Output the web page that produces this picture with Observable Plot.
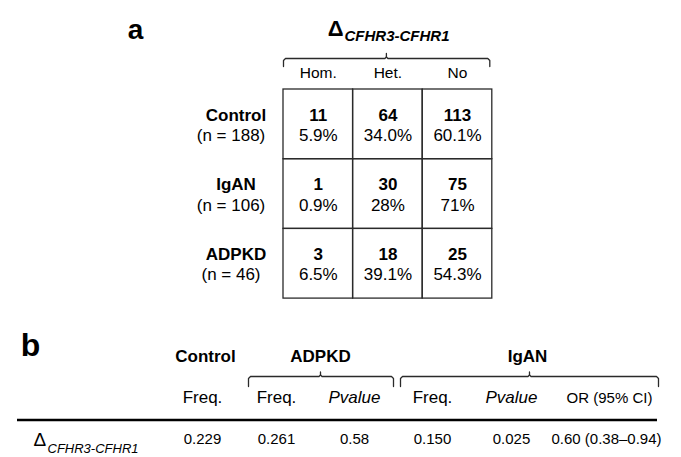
<!DOCTYPE html>
<html><head><meta charset="utf-8">
<script src="https://cdn.jsdelivr.net/npm/d3@7"></script>
<script src="https://cdn.jsdelivr.net/npm/@observablehq/plot@0.6"></script>
<style>body{margin:0;background:#fff}</style>
</head><body>
<script>
// ---- Panel a data ----
const groupsA = ["Control", "IgAN", "ADPKD"];
const groupN = [188, 106, 46];
const genotypes = ["Hom.", "Het.", "No"];
const countsControl = [11, 64, 113];
const countsIgAN = [1, 30, 75];
const countsADPKD = [3, 18, 25];
const pctControl = ["5.9%", "34.0%", "60.1%"];
const pctIgAN = ["0.9%", "28%", "71%"];
const pctADPKD = ["6.5%", "39.1%", "54.3%"];
const deletionLabel = "CFHR3-CFHR1";

// ---- Panel b data ----
const groupsB = ["Control", "ADPKD", "IgAN"];
const columnsB = ["Freq.", "Freq.", "Pvalue", "Freq.", "Pvalue", "OR (95% CI)"];
const valuesB = ["0.229", "0.261", "0.58", "0.150", "0.025", "0.60 (0.38–0.94)"];

// ---- layout ----
const W = 681, H = 457;
const FONT = "'Liberation Sans', Arial, Helvetica, sans-serif";
const INK = "#000";
const LINE = "#2a2a2a";
const A = {x0: 283, cw: 69.6, y0: 89, ch: 69.7};
const counts = [countsControl, countsIgAN, countsADPKD];
const pcts = [pctControl, pctIgAN, pctADPKD];

const cells = [];
groupsA.forEach((g, r) => genotypes.forEach((gt, c) => cells.push({
  r, c, count: counts[r][c], pct: pcts[r][c]
})));
const colX = c => A.x0 + (c + 0.5) * A.cw;
const rowTop = r => A.y0 + r * A.ch;
const mid = (baseline, size) => baseline - 0.32 * size;

// panel b column centres and group header/brace layout
const colB = [202, 276, 354, 432, 511, 607];
const groupB = [
  {name: groupsB[0], x: 205},
  {name: groupsB[1], x: 320, x1: 248, x2: 393, xc: 320},
  {name: groupsB[2], x: 527, x1: 400, x2: 658, xc: 529}
];

function brace(x1, x2, xc, y, drop, rise, id) {
  return [
    {id: id + "L", x: x1, y: y + drop}, {id: id + "L", x: x1, y: y + 2}, {id: id + "L", x: x1 + 2, y},
    {id: id + "L", x: xc - 1.5, y}, {id: id + "L", x: xc, y: y - 1.5}, {id: id + "L", x: xc, y: y - rise},
    {id: id + "R", x: xc, y: y - 1.5}, {id: id + "R", x: xc + 1.5, y},
    {id: id + "R", x: x2 - 2, y}, {id: id + "R", x: x2, y: y + 2}, {id: id + "R", x: x2, y: y + drop}
  ];
}
const braces = [
  ...brace(A.x0, A.x0 + 3 * A.cw - 2.5, A.x0 + 1.5 * A.cw - 1.5, 58, 8, 5, "a"),
  ...groupB.filter(d => d.x1).flatMap((d, i) => brace(d.x1, d.x2, d.xc, 376, 10, 4.5, "b" + i))
];

const t = (data, o) => Plot.text(data, {fill: INK, fontFamily: FONT, ...o});

const chart = Plot.plot({
  width: W, height: H,
  margin: 0,
  x: {type: "linear", domain: [0, W], range: [0, W], axis: null},
  y: {type: "linear", domain: [0, H], range: [0, H], axis: null},
  style: {fontFamily: FONT, background: "#fff", color: INK},
  marks: [
    // ---- panel a ----
    t(["a"], {x: 135, y: mid(38, 28), text: d => d, fontSize: 28, fontWeight: "bold"}),
    t(["Δ"], {x: 343, y: mid(35, 22), text: d => d, fontSize: 22, fontWeight: "bold", textAnchor: "end"}),
    t([deletionLabel], {x: 344, y: mid(40, 15), text: d => d, fontSize: 15, fontWeight: "bold", fontStyle: "italic", textAnchor: "start"}),
    Plot.line(braces, {x: "x", y: "y", z: "id", stroke: LINE, strokeWidth: 1.3}),
    t(genotypes, {x: (d, i) => colX(i), y: mid(77, 15.5), text: d => d, fontSize: 15.5}),
    Plot.rect(cells, {
      x1: d => A.x0 + d.c * A.cw, x2: d => A.x0 + (d.c + 1) * A.cw,
      y1: d => rowTop(d.r), y2: d => rowTop(d.r + 1),
      fill: "none", stroke: LINE, strokeWidth: 1.3
    }),
    t(cells, {x: d => colX(d.c), y: d => mid(rowTop(d.r) + 31, 17), text: d => String(d.count), fontSize: 17, fontWeight: "bold"}),
    t(cells, {x: d => colX(d.c), y: d => mid(rowTop(d.r) + 51.5, 17), text: "pct", fontSize: 17}),
    t(groupsA, {x: 235.5, y: (d, i) => mid(rowTop(i) + 31, 17), text: d => d, fontSize: 17, fontWeight: "bold"}),
    t(groupN, {x: 230.5, y: (d, i) => mid(rowTop(i) + 51.5, 17), text: d => `(n = ${d})`, fontSize: 17}),

    // ---- panel b ----
    t(["b"], {x: 30, y: mid(355, 32), text: d => d, fontSize: 32, fontWeight: "bold"}),
    t(groupB, {x: "x", y: mid(361.5, 17), text: "name", fontSize: 17, fontWeight: "bold"}),
    t(columnsB.map((c, i) => ({c, i})).filter(d => d.c === "Freq."), {x: d => colB[d.i], y: mid(402, 17), text: "c", fontSize: 17}),
    t(columnsB.map((c, i) => ({c, i})).filter(d => d.c === "Pvalue"), {x: d => colB[d.i], y: mid(402, 17), text: "c", fontSize: 17, fontStyle: "italic"}),
    t(columnsB.map((c, i) => ({c, i})).filter(d => d.c.startsWith("OR")), {x: d => colB[d.i] + 2, y: mid(402, 15), text: "c", fontSize: 15}),
    Plot.ruleY([419.5], {x1: 17, x2: 657, stroke: "#000", strokeWidth: 2.5}),
    t(["Δ"], {x: 33, y: mid(445, 19), text: d => d, fontSize: 19, textAnchor: "start"}),
    t([deletionLabel], {x: 47, y: mid(452, 13), text: d => d, fontSize: 13, fontStyle: "italic", textAnchor: "start"}),
    t(valuesB, {x: (d, i) => colB[i] + (i === 5 ? -1 : 0), y: mid(443, 15), text: d => d, fontSize: 15})
  ]
});
document.body.appendChild(chart);
</script>
</body></html>
